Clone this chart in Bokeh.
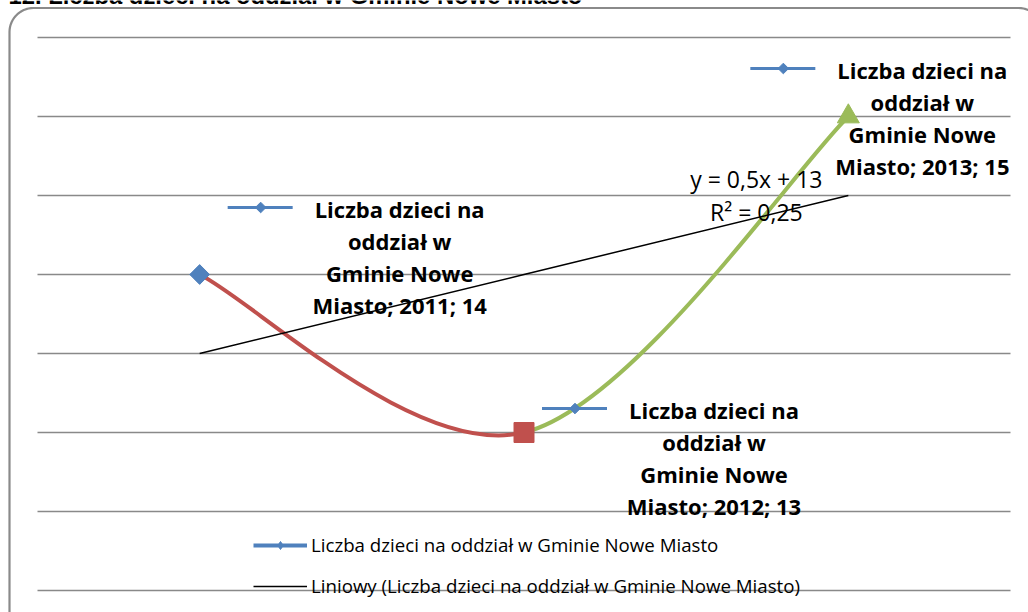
import numpy as np
from bokeh.plotting import figure
from bokeh.models import Range1d, Label, Legend, LegendItem, ColumnDataSource
from bokeh.embed import file_html
from bokeh.resources import INLINE

# ---------------- data ----------------
title = "12. Liczba dzieci na oddział w Gminie Nowe Miasto"
years = [2011, 2012, 2013]
values = [14, 13, 15]
series_name_lines = ["Liczba dzieci na", "oddział w", "Gminie Nowe", "Miasto"]
series_name = " ".join(series_name_lines)
trend_name = f"Liniowy ({series_name})"
y_ticks = [12, 12.5, 13, 13.5, 14, 14.5, 15, 15.5]

# ---------------- style ----------------
point_markers = ["square", "square", "triangle"]
point_angles = [np.pi / 4, 0.0, 0.0]
point_sizes = [14, 20, 22]
point_colors = ["#4F81BD", "#C0504D", "#9BBB59"]
BLUE = "#4F81BD"
GRID = "#898989"
FONT = "Open Sans"
BASE_FIX = -9          # pixel correction for the label baseline placement

W, H = 1028, 612
PL, PR, PT, PB = 37, 1010, 37, 590          # plot-area box in pixels

xa, xb = years[0] - 0.5, years[-1] + 0.5
ya, yb = y_ticks[0], y_ticks[-1]
sx = (xb - xa) / (PR - PL)
sy = (yb - ya) / (PB - PT)
x0r, x1r = xa - PL * sx, xb + (W - PR) * sx
y0r, y1r = ya - (H - PB) * sy, yb + PT * sy


def off(x, y, dx, dy):
    """shift a data point by pixel offsets (dy positive = down)"""
    return x + dx * sx, y - dy * sy


p = figure(width=W, height=H, x_range=Range1d(x0r, x1r), y_range=Range1d(y0r, y1r),
           x_axis_type=None, y_axis_type=None, toolbar_location=None,
           output_backend="svg", min_border=0)
p.outline_line_color = None
p.background_fill_color = "white"
p.border_fill_color = "white"

# horizontal gridlines across the plot area
p.segment(x0=[xa] * len(y_ticks), x1=[xb] * len(y_ticks), y0=y_ticks, y1=y_ticks,
          line_color=GRID, line_width=1.6)

# chart border (rounded rectangle running off the right/bottom page edge)
bL, bT, bR, bB, rad = 9, 7.5, 1042, 650, 24
th1 = np.linspace(np.pi, 1.5 * np.pi, 16)
th2 = np.linspace(1.5 * np.pi, 2 * np.pi, 16)
bpx = np.concatenate([[bL], bL + rad + rad * np.cos(th1),
                      bR - rad + rad * np.cos(th2), [bR]])
bpy = np.concatenate([[bB], bT + rad + rad * np.sin(th1),
                      bT + rad + rad * np.sin(th2), [bB]])
p.line(x0r + bpx * sx, y1r - bpy * sy, line_color="#8a8a8a", line_width=2.2)

# title (mostly above the visible page, as in the reference)
tx, ty = off(xa, yb, -(PL - 8), -(PT - 4) + BASE_FIX)
p.add_layout(Label(x=tx, y=ty, text=title, text_align="left",
                   text_baseline="alphabetic", text_font="Liberation Sans",
                   text_font_style="bold", text_font_size="23.8px", text_color="black"))

# smoothed line (Bezier through the points)
k = 1 / 6
pts = list(zip(years, values))
n = len(pts)
bz = dict(x0=[], y0=[], x1=[], y1=[], cx0=[], cy0=[], cx1=[], cy1=[], color=[])
for i in range(n - 1):
    p0 = np.array(pts[i], float)
    p1 = np.array(pts[i + 1], float)
    pm = np.array(pts[i - 1], float) if i > 0 else p0
    pn = np.array(pts[i + 2], float) if i + 2 < n else p1
    c0 = p0 + k * (p1 - pm)
    c1 = p1 - k * (pn - p0)
    bz["x0"].append(p0[0]); bz["y0"].append(p0[1])
    bz["x1"].append(p1[0]); bz["y1"].append(p1[1])
    bz["cx0"].append(c0[0]); bz["cy0"].append(c0[1])
    bz["cx1"].append(c1[0]); bz["cy1"].append(c1[1])
    bz["color"].append(point_colors[i + 1])
p.bezier(x0="x0", y0="y0", x1="x1", y1="y1", cx0="cx0", cy0="cy0", cx1="cx1",
         cy1="cy1", line_color="color", line_width=4, line_cap="round",
         source=ColumnDataSource(bz))

# linear trend (x = 1..n as in Excel)
idx = np.arange(1, n + 1)
slope, intercept = np.polyfit(idx, values, 1)
fit = slope * idx + intercept
vals = np.array(values, float)
r2 = 1 - np.sum((vals - fit) ** 2) / np.sum((vals - vals.mean()) ** 2)
r_trend = p.line(years, fit, line_color="black", line_width=1.5)

# point markers
p.scatter(x="x", y="y", marker="m", angle="a", size="s", fill_color="c", line_color="c",
          source=ColumnDataSource(dict(x=years, y=values, m=point_markers,
                                       a=point_angles, s=point_sizes, c=point_colors)))

# data labels with legend keys
label_offsets = [(200, -57), (190, -14), (74, -38)]
line_step = 32
kx0, ky0, kx1, ky1, dmx, dmy = [], [], [], [], [], []
for (yr, v), (dx, dy) in zip(pts, label_offsets):
    lines = series_name_lines[:-1] + [f"{series_name_lines[-1]}; {yr}; {v}"]
    for j, t in enumerate(lines):
        lx, ly = off(yr, v, dx, dy + j * line_step + BASE_FIX)
        p.add_layout(Label(x=lx, y=ly, text=t, text_align="center",
                           text_baseline="alphabetic", text_font=FONT,
                           text_font_style="bold", text_font_size="22px",
                           text_color="black"))
    a = off(yr, v, dx - 172, dy - 10)
    b = off(yr, v, dx - 107, dy - 10)
    c = off(yr, v, dx - 139, dy - 10)
    kx0.append(a[0]); ky0.append(a[1]); kx1.append(b[0]); ky1.append(b[1])
    dmx.append(c[0]); dmy.append(c[1])
p.segment(kx0, ky0, kx1, ky1, line_color=BLUE, line_width=3)
p.scatter(dmx, dmy, marker="square", angle=np.pi / 4, size=7.5, fill_color=BLUE,
          line_color=BLUE)

# trend equation
eq1 = f"y = {slope:.2g}x + {intercept:.3g}".replace(".", ",")
eq2 = f"R² = {r2:.2g}".replace(".", ",")
for j, t in enumerate([eq1, eq2]):
    ex, ey = off(years[-1], fit[-1], -92, -8 + j * 33 + BASE_FIX)
    p.add_layout(Label(x=ex, y=ey, text=t, text_align="center",
                       text_baseline="alphabetic", text_font=FONT,
                       text_font_size="23px", text_color="black"))

# legend (dummy series renderer placed outside the view for the legend key)
r_leg_line = p.line(x=[x0r - 10, x0r - 9], y=[y0r - 10, y0r - 10], line_color=BLUE,
                    line_width=4)
r_leg_mark = p.scatter(x=[x0r - 10], y=[y0r - 10], marker="diamond", size=13,
                       fill_color=BLUE, line_color=BLUE)
legend = Legend(items=[LegendItem(label=series_name, renderers=[r_leg_line, r_leg_mark]),
                       LegendItem(label=trend_name, renderers=[r_trend])],
                location=(253, 14), glyph_width=54, glyph_height=20, label_height=20,
                spacing=16, padding=0, margin=0, border_line_color=None,
                background_fill_alpha=0, label_standoff=4,
                label_text_font=FONT, label_text_font_size="18.7px",
                label_text_color="black")
p.add_layout(legend)

open("out.html", "w").write(file_html(p, INLINE))
